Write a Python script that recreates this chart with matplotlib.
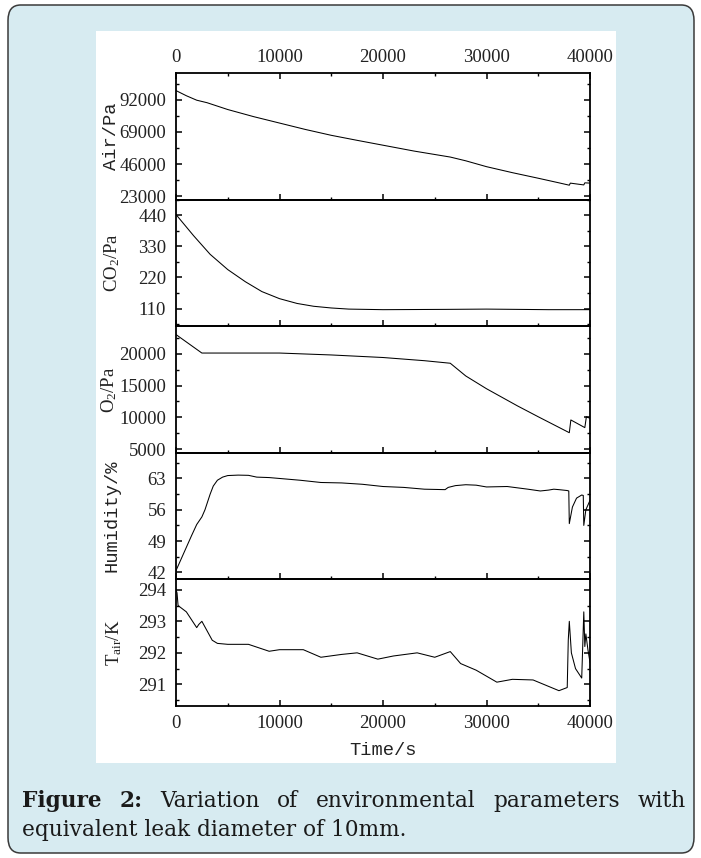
import matplotlib
matplotlib.use("Agg")
import matplotlib.pyplot as plt
from matplotlib.patches import FancyBboxPatch, Rectangle
from matplotlib.ticker import MultipleLocator, FixedLocator

# ---------------- data ----------------
air_t = [0, 1000, 2000, 3000, 5000, 7500, 10000, 12500, 15000, 17500, 20000, 23000,
         26500, 28000, 30000, 32500, 35000, 37000, 38000, 38100, 39400, 39500, 40000]
air_pa = [98700, 95000, 91800, 90000, 85100, 80000, 75400, 70800, 66600, 63000, 59500, 55300,
          51000, 48300, 44100, 39800, 35800, 32500, 30800, 32300, 31000, 32500, 32300]

co2_t = [0, 1700, 3300, 5000, 6700, 8300, 10000, 11700, 13300, 15000, 16700, 20000,
         26000, 30000, 36000, 40000]
co2_pa = [443, 368, 302, 248, 205, 170, 145, 128, 118, 112, 108, 106, 107, 108, 106, 106]

o2_t = [0, 2500, 10000, 15000, 20000, 24000, 26500, 28000, 30000, 33000, 35000, 38000,
        38150, 39500, 39650, 40000]
o2_pa = [23000, 20100, 20100, 19800, 19400, 18900, 18500, 16500, 14500, 11800, 10100, 7600,
         9600, 8400, 10100, 9850]

hum_t = [0, 500, 1000, 1500, 2000, 2500, 2800, 3000, 3300, 3600, 4000, 4500, 5000, 6000,
         7000, 7800, 9000, 12000, 14000, 16000, 18000, 20000, 22000, 24000, 26000, 26300,
         27000, 28000, 29000, 30000, 32000, 34000, 35200, 36000, 36500, 37000, 37800,
         37950, 38000, 38300, 38700, 39200, 39350, 39400, 39600, 40000]
hum_pct = [42.4, 45.0, 47.6, 50.2, 52.7, 54.4, 56.0, 57.4, 59.5, 61.3, 62.6, 63.3, 63.65,
           63.75, 63.7, 63.3, 63.2, 62.6, 62.1, 62.0, 61.7, 61.2, 61.0, 60.6, 60.5, 61.0,
           61.4, 61.6, 61.5, 61.1, 61.2, 60.6, 60.2, 60.4, 60.6, 60.5, 60.3,
           60.2, 52.9, 56.6, 58.6, 59.3, 59.2, 52.5, 56.0, 58.1]

tair_t = [0, 100, 200, 1000, 2000, 2200, 2500, 3000, 3500, 4000, 5000, 7000, 9000, 10000,
          12300, 14000, 16000, 17500, 19500, 21000, 23300, 25000, 26500, 27500, 29000,
          31000, 32500, 34500, 37000, 37800, 37900, 38000, 38200, 38600, 39200, 39400,
          39500, 39600, 39800, 40000]
tair_k = [294.0, 293.9, 293.5, 293.3, 292.8, 292.9, 293.0, 292.7, 292.4, 292.3, 292.27,
          292.27, 292.05, 292.1, 292.1, 291.86, 291.95, 292.0, 291.8, 291.9, 292.0, 291.86,
          292.04, 291.66, 291.45, 291.07, 291.16, 291.14, 290.8, 290.9, 292.4, 293.0, 292.0,
          291.5, 291.2, 293.3, 292.2, 292.6, 292.1, 291.7]

ylabels = ["Air/Pa", "CO$_2$/Pa", "O$_2$/Pa", "Humidity/%", "T$_{\\rm air}$/K"]
ylims = [(20370, 111100), (47.5, 495.4), (4474, 24316), (40.5, 68.78), (290.33, 294.34)]
ymajor = [23000, 110, 5000, 7, 1]
xticks = [0, 10000, 20000, 30000, 40000]
xlabel = "Time/s"
caption_bold = ["Figure", "2:"]
caption_line1 = ["Variation", "of", "environmental", "parameters", "with"]
caption_line2 = "equivalent leak diameter of 10mm."

# ---------------- figure ----------------
plt.rcParams['mathtext.fontset'] = 'custom'
plt.rcParams['mathtext.rm'] = 'Liberation Serif'
plt.rcParams['mathtext.it'] = 'Liberation Serif:italic'

W, H = 701, 858
fig = plt.figure(figsize=(W / 100, H / 100), dpi=100)
fig.patch.set_facecolor('white')

def fx(px):
    return px / W

def fy(py):
    return 1 - py / H

# outer rounded frame
frame = FancyBboxPatch((fx(8), fy(853)), fx(694) - fx(8), fy(5) - fy(853),
                       boxstyle="round,pad=0,rounding_size=0.018",
                       transform=fig.transFigure, facecolor='#d7ebf1',
                       edgecolor='#3a3a3a', linewidth=1.1, zorder=-3)
fig.patches.append(frame)
panel = Rectangle((fx(96), fy(763)), fx(616) - fx(96), fy(31) - fy(763),
                  transform=fig.transFigure, facecolor='white', edgecolor='none', zorder=-2)
fig.patches.append(panel)

left, right = 176, 590
top, bottom = 73.3, 705.5
ph = (bottom - top) / 5
series = [(air_t, air_pa), (co2_t, co2_pa), (o2_t, o2_pa), (hum_t, hum_pct), (tair_t, tair_k)]
label_x = [111, 112, 109, 112, 114]
axes = []
for i, (t, v) in enumerate(series):
    y0 = top + i * ph
    ax = fig.add_axes([fx(left), fy(y0 + ph), fx(right) - fx(left), ph / H])
    ax.patch.set_alpha(0)
    ax.plot(t, v, color='black', lw=0.75)
    ax.set_xlim(0, 40000)
    ax.set_ylim(*ylims[i])
    ax.xaxis.set_major_locator(FixedLocator(xticks))
    ax.xaxis.set_minor_locator(MultipleLocator(5000))
    ax.yaxis.set_major_locator(MultipleLocator(ymajor[i]))
    ax.yaxis.set_minor_locator(MultipleLocator(ymajor[i] / 2))
    for s in ax.spines.values():
        s.set_linewidth(1.3)
    ax.tick_params(axis='both', which='both', direction='in', colors='black')
    ax.tick_params(axis='y', which='major', length=4.5, width=1.1, left=True, right=True, pad=7.0)
    ax.tick_params(axis='y', which='minor', length=2.5, width=1.0, left=True, right=True)
    ax.tick_params(axis='x', which='major', length=4.5, width=1.1)
    ax.tick_params(axis='x', which='minor', length=2.5, width=1.0)
    if i == 0:
        ax.tick_params(axis='x', which='both', top=True, bottom=True, labeltop=True, labelbottom=False)
        ax.tick_params(axis='x', which='major', pad=5.0)
    elif i == 4:
        ax.tick_params(axis='x', which='both', top=False, bottom=True, labeltop=False, labelbottom=True)
        ax.tick_params(axis='x', which='major', pad=6.5)
    else:
        ax.tick_params(axis='x', which='both', top=False, bottom=True, labeltop=False, labelbottom=False)
    for lab in ax.get_xticklabels() + ax.get_yticklabels():
        lab.set_fontfamily('Liberation Serif')
        lab.set_fontsize(13.5)
        lab.set_color('#222222')
    fam = 'Liberation Mono' if i in (0, 3) else 'Liberation Serif'
    ax.set_ylabel(ylabels[i], family=fam, fontsize=13.5, va='center', color='#222222')
    ax.yaxis.set_label_coords((label_x[i] - left) / (right - left), 0.5)
    axes.append(ax)

axes[-1].set_xlabel(xlabel, family='Liberation Mono', fontsize=13.5, va='center', color='#222222')
axes[-1].xaxis.set_label_coords(0.5, -(750 - bottom) / ph)

# ---------------- caption (justified first line) ----------------
cap_font = 'DejaVu Serif'
renderer = fig.canvas.get_renderer()
probe = fig.text(0, 0, caption_line2, family=cap_font, fontsize=10)
w10 = probe.get_window_extent(renderer).width
probe.remove()
cap_size = 10 * (408 - 22) / w10

x_left, x_right = 22, 686
words = [(w, 'bold') for w in caption_bold] + [(w, 'normal') for w in caption_line1]
widths = []
for w, wt in words:
    tt = fig.text(0, 0, w, family=cap_font, fontsize=cap_size, weight=wt)
    widths.append(tt.get_window_extent(renderer).width)
    tt.remove()
gap = (x_right - x_left - sum(widths)) / (len(words) - 1)
x = x_left
for (w, wt), wd in zip(words, widths):
    fig.text(fx(x), fy(807), w, family=cap_font, fontsize=cap_size, weight=wt,
             ha='left', va='baseline', color='#1a1a1a')
    x += wd + gap
fig.text(fx(22), fy(836), caption_line2, family=cap_font, fontsize=cap_size,
         ha='left', va='baseline', color='#1a1a1a')

fig.savefig('out.png', dpi=100, facecolor=fig.get_facecolor())
